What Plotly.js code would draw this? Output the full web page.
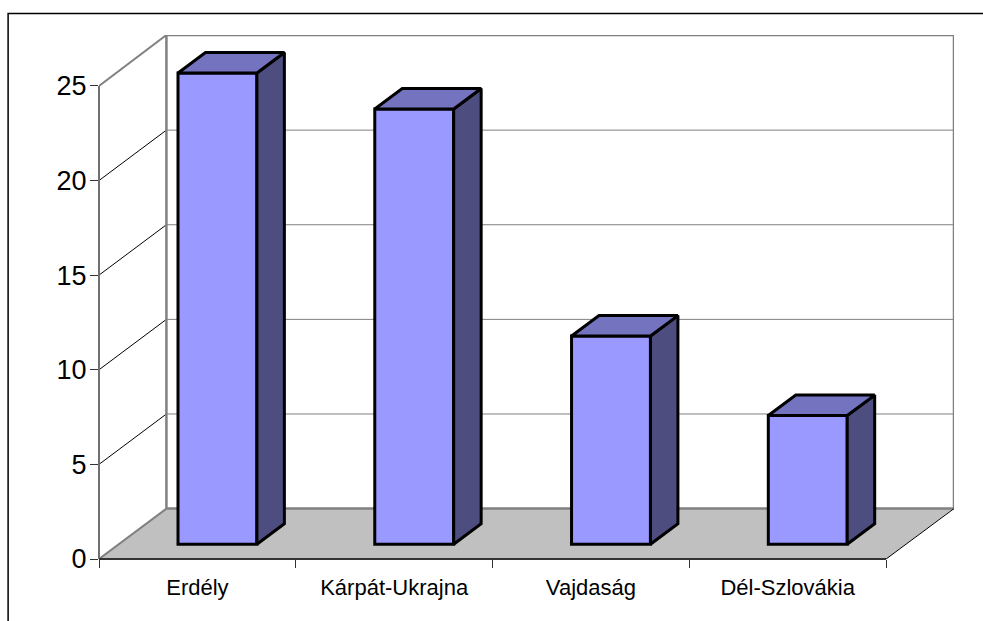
<!DOCTYPE html>
<html>
<head>
<meta charset="utf-8">
<script src="https://cdn.plot.ly/plotly-3.0.1.min.js"></script>
<style>html,body{margin:0;padding:0;background:#fff;overflow:hidden}</style>
</head>
<body>
<div id="chart" style="width:983px;height:621px"></div>
<script>
const categories = ["Erdély", "Kárpát-Ukrajna", "Vajdaság", "Dél-Szlovákia"];
const values = [24.9, 23, 11, 6.8];
const yTicks = [0, 5, 10, 15, 20, 25];

const W = 983, H = 621;
const L = 98.5, R = 954.5, T = 34.5, B = 559.5;
const catW = 197, unitH = 18.96;
const wallDx = 67.5 / catW, wallDy = 50.5 / unitH;
const barDx = 27.5 / catW, barDy = 20.5 / unitH;
const barW = 79 / catW;
const barOffX = 0.102, barBase = 14.8 / unitH;
const xMin = -0.5, xEnd = 3.5;
const xMax = xMin + (R - L) / catW, yMax = (B - T) / unitH;
const yTop = yTicks[yTicks.length - 1];

const line = (x, y, color, width) => ({
  type: "scatter", mode: "lines", x, y, cliponaxis: false, hoverinfo: "skip", showlegend: false,
  line: { color, width }
});
const face = (x, y, color) => ({
  type: "scatter", mode: "lines", x, y, fill: "toself", fillcolor: color, cliponaxis: false,
  hoverinfo: "skip", showlegend: false, line: { color: "#000", width: 3, join: "miter" }
});

const shapes = [];
const seg = (x0, y0, x1, y1, color, width) => shapes.push({
  type: "line", layer: "below", xref: "x", yref: "y", x0, y0, x1, y1, line: { color, width }
});
// floor
shapes.push({
  type: "path", layer: "below", xref: "x", yref: "y",
  path: `M${xMin},0 L${xEnd},0 L${xEnd + wallDx},${wallDy} L${xMin + wallDx},${wallDy} Z`,
  fillcolor: "#c0c0c0", line: { width: 0 }
});
// wall gridlines
yTicks.slice(1, -1).forEach(t => {
  seg(xMin + wallDx, t + wallDy, xMax, t + wallDy, "#808080", 1);
  seg(xMin, t, xMin + wallDx, t + wallDy, "#000", 1);
});
seg(xMin + wallDx, wallDy, xMax, wallDy, "#808080", 2.5);
seg(xMin + wallDx, wallDy, xMin + wallDx, yMax, "#808080", 2.5);
seg(xMin, 0, xMin + wallDx, wallDy, "#808080", 2);
seg(xEnd, 0, xMax, wallDy, "#000", 1);

const traces = [{
  type: "bar",
  x: categories.map((_, i) => i + barOffX),
  y: values,
  base: values.map(() => barBase),
  width: barW,
  marker: { color: "#9999ff", line: { color: "#000", width: 3 } },
  hoverinfo: "skip", showlegend: false
}];
values.forEach((v, i) => {
  const x0 = i + barOffX - barW / 2, x1 = i + barOffX + barW / 2, y0 = barBase, y1 = barBase + v;
  traces.push(face([x1, x1 + barDx, x1 + barDx, x1, x1], [y0, y0 + barDy, y1 + barDy, y1, y0], "#4d4d80"));
  traces.push(face([x0, x0 + barDx, x1 + barDx, x1, x0], [y1, y1 + barDy, y1 + barDy, y1, y1], "#7373bf"));
});
traces.push(line([xMin + wallDx, xMax, xMax], [yMax, yMax, wallDy], "#808080", 2.5));
traces.push(line([xMin, xMin + wallDx], [yTop, yMax], "#808080", 2));

// axis lines on the plot edge: one paper-side reference keeps them unclipped
shapes.push({
  type: "line", layer: "above", xref: "paper", yref: "y",
  x0: 0, x1: 0, y0: 0, y1: yTop, line: { color: "#707070", width: 2 }
});
shapes.push({
  type: "line", layer: "above", xref: "x", yref: "paper",
  x0: xMin, x1: xEnd, y0: 0, y1: 0, line: { color: "#333", width: 2 }
});

// chart frame, in paper coordinates
shapes.push({
  type: "rect", layer: "below", xref: "paper", yref: "paper",
  x0: (7.5 - L) / (R - L), x1: (W + 10 - L) / (R - L),
  y0: (B - H - 10) / (B - T), y1: (B - 13) / (B - T),
  line: { color: "#000", width: 1.5 }, fillcolor: "rgba(0,0,0,0)"
});

const layout = {
  width: W, height: H,
  margin: { l: L, r: W - R, t: T, b: H - B, pad: 0 },
  paper_bgcolor: "#fff", plot_bgcolor: "#fff",
  font: { family: "Liberation Sans, Arial, sans-serif", color: "#000" },
  showlegend: false,
  shapes,
  xaxis: {
    type: "linear", range: [xMin, xMax], showgrid: false, zeroline: false, showline: false,
    tickvals: categories.map((_, i) => i), ticktext: categories,
    ticks: "", tickfont: { size: 22 }, ticklabelstandoff: 13,
    minor: {
      tickvals: categories.map((_, i) => i - 0.5).concat([xEnd]),
      ticks: "outside", ticklen: 8, tickwidth: 1, tickcolor: "#333", showgrid: false
    }
  },
  yaxis: {
    range: [0, yMax], showgrid: false, zeroline: false, showline: false,
    tickvals: yTicks, ticktext: yTicks.map(String),
    ticks: "outside", ticklen: 8, tickwidth: 1, tickcolor: "#333",
    tickfont: { size: 27 }, ticklabelstandoff: -2
  }
};
Plotly.newPlot("chart", traces, layout, { displayModeBar: false, staticPlot: true });
</script>
</body>
</html>
